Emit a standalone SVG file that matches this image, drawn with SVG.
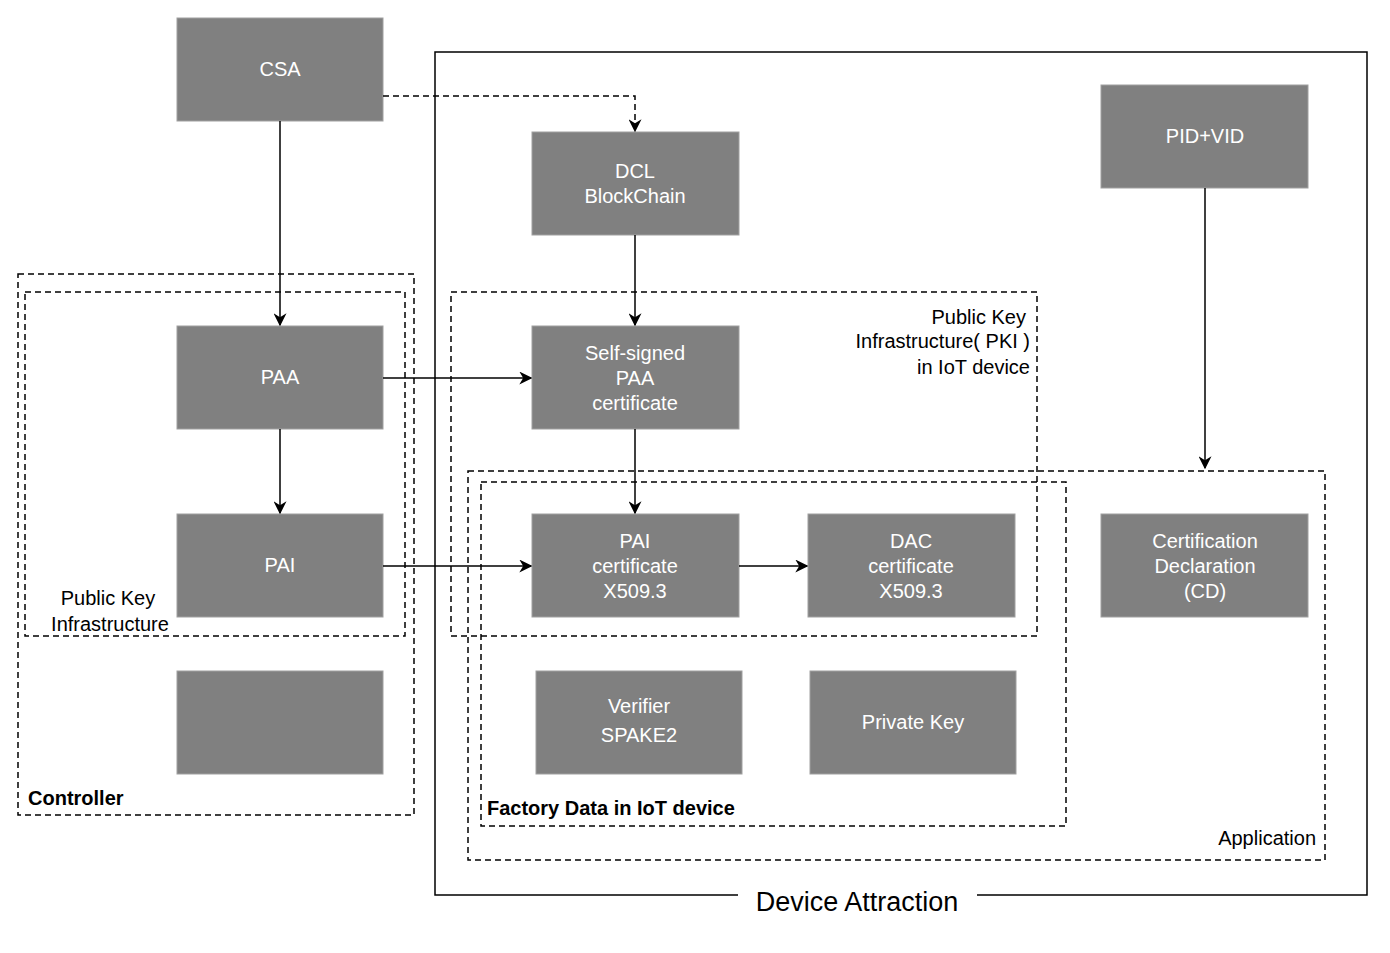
<svg xmlns="http://www.w3.org/2000/svg" width="1390" height="953" viewBox="0 0 1390 953">
<defs>
<marker id="ah" viewBox="0 0 10 10" refX="9" refY="5" markerWidth="13" markerHeight="13" markerUnits="userSpaceOnUse" orient="auto">
<path d="M0,0 L10,5 L0,10 L3,5 Z" fill="#000"/>
</marker>
<style>
.box{fill:#808080;stroke:#a0a0a0;stroke-width:1}
.bt{fill:#fff;font-family:"Liberation Sans",Arial,sans-serif;font-size:20px;text-anchor:middle}
.dash{fill:none;stroke:#000;stroke-width:1.5;stroke-dasharray:6 4}
.lbl{fill:#000;font-family:"Liberation Sans",Arial,sans-serif;font-size:20px}
.big{font-size:27px}
.bold{font-weight:bold}
.conn{fill:none;stroke:#000;stroke-width:1.5;marker-end:url(#ah)}
</style>
</defs>
<rect width="1390" height="953" fill="#fff"/>
<g id="device-attraction">
<path d="M738,895 H435 V52 H1367 V895 H977" fill="none" stroke="#000" stroke-width="1.5"/>
<text class="lbl big" x="857" y="911" text-anchor="middle">Device Attraction</text>
</g>
<g id="controller">
<rect class="dash" x="18" y="274" width="396" height="541"/>
<text class="lbl bold" x="28" y="805">Controller</text>
</g>
<g id="pki-controller">
<rect class="dash" x="25" y="292" width="380" height="344"/>
<text class="lbl" x="108" y="605" text-anchor="middle">Public Key</text>
<text class="lbl" x="110" y="631" text-anchor="middle">Infrastructure</text>
</g>
<g id="pki-iot">
<rect class="dash" x="451" y="292" width="586" height="344"/>
<text class="lbl" x="1026" y="324" text-anchor="end">Public Key</text>
<text class="lbl" x="1030" y="348" text-anchor="end">Infrastructure( PKI )</text>
<text class="lbl" x="1030" y="374" text-anchor="end">in IoT device</text>
</g>
<g id="application">
<rect class="dash" x="468" y="471" width="857" height="389"/>
<text class="lbl" x="1316" y="845" text-anchor="end">Application</text>
</g>
<g id="factory-data">
<rect class="dash" x="481" y="482" width="585" height="344"/>
<text class="lbl bold" x="487" y="815">Factory Data in IoT device</text>
</g>
<g id="csa"><rect class="box" x="177" y="18" width="206" height="103"/><text class="bt" x="280" y="76">CSA</text></g>
<g id="dcl"><rect class="box" x="532" y="132" width="207" height="103"/><text class="bt" x="635" y="178">DCL</text><text class="bt" x="635" y="203">BlockChain</text></g>
<g id="pidvid"><rect class="box" x="1101" y="85" width="207" height="103"/><text class="bt" x="1205" y="143">PID+VID</text></g>
<g id="paa"><rect class="box" x="177" y="326" width="206" height="103"/><text class="bt" x="280" y="384">PAA</text></g>
<g id="self-signed"><rect class="box" x="532" y="326" width="207" height="103"/><text class="bt" x="635" y="360">Self-signed</text><text class="bt" x="635" y="385">PAA</text><text class="bt" x="635" y="410">certificate</text></g>
<g id="pai"><rect class="box" x="177" y="514" width="206" height="103"/><text class="bt" x="280" y="572">PAI</text></g>
<g id="pai-cert"><rect class="box" x="532" y="514" width="207" height="103"/><text class="bt" x="635" y="548">PAI</text><text class="bt" x="635" y="573">certificate</text><text class="bt" x="635" y="598">X509.3</text></g>
<g id="dac-cert"><rect class="box" x="808" y="514" width="207" height="103"/><text class="bt" x="911" y="548">DAC</text><text class="bt" x="911" y="573">certificate</text><text class="bt" x="911" y="598">X509.3</text></g>
<g id="cd"><rect class="box" x="1101" y="514" width="207" height="103"/><text class="bt" x="1205" y="548">Certification</text><text class="bt" x="1205" y="573">Declaration</text><text class="bt" x="1205" y="598">(CD)</text></g>
<g id="empty"><rect class="box" x="177" y="671" width="206" height="103"/></g>
<g id="verifier"><rect class="box" x="536" y="671" width="206" height="103"/><text class="bt" x="639" y="713">Verifier</text><text class="bt" x="639" y="742">SPAKE2</text></g>
<g id="private-key"><rect class="box" x="810" y="671" width="206" height="103"/><text class="bt" x="913" y="729">Private Key</text></g>
<g id="connectors">
<path class="conn" d="M280,121 V325"/>
<path class="conn" d="M383,96 H635 V131" stroke-dasharray="6 4"/>
<path class="conn" d="M635,235 V325"/>
<path class="conn" d="M383,378 H531"/>
<path class="conn" d="M280,429 V513"/>
<path class="conn" d="M635,429 V513"/>
<path class="conn" d="M383,566 H531"/>
<path class="conn" d="M739,566 H807"/>
<path class="conn" d="M1205,188 V468"/>
</g>
</svg>
